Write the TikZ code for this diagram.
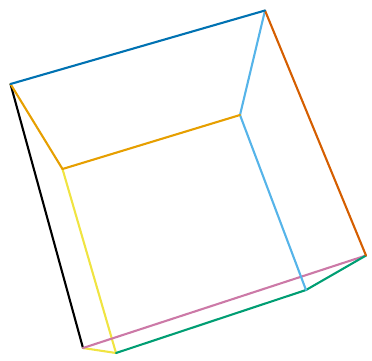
\documentclass[tikz,border=0pt]{standalone}
\definecolor{cblue}{HTML}{0072B2}
\definecolor{cvermil}{HTML}{D55E00}
\definecolor{corange}{HTML}{E69F00}
\definecolor{csky}{HTML}{56B4E9}
\definecolor{cyellow}{HTML}{F0E442}
\definecolor{cpink}{HTML}{CC79A7}
\definecolor{cgreen}{HTML}{009E73}
\tikzset{edge/.style={line width=2.1pt,line cap=round,line join=round}}
\begin{document}
\begin{tikzpicture}[x=1pt,y=-1pt]
\useasboundingbox (0,0) rectangle (372,360);
\coordinate (A) at (10.5,84);
\coordinate (B) at (265,10.5);
\coordinate (C) at (366,255.5);
\coordinate (D) at (83,348);
\coordinate (E) at (62.5,169);
\coordinate (F) at (240,115);
\coordinate (G) at (306,290);
\coordinate (H) at (116,353);
\draw[edge,black] (A) -- (D);
\draw[edge,cyellow] (E) -- (H);
\draw[edge,cyellow] (D) -- (H);
\draw[edge,cpink] (D) -- (C);
\draw[edge,cgreen] (H) -- (G);
\draw[edge,cgreen] (G) -- (C);
\draw[edge,csky] (B) -- (F);
\draw[edge,csky] (F) -- (G);
\draw[edge,cvermil] (B) -- (C);
\draw[edge,corange] (A) -- (E);
\draw[edge,corange] (E) -- (F);
\draw[edge,cblue] (A) -- (B);
\end{tikzpicture}
\end{document}
